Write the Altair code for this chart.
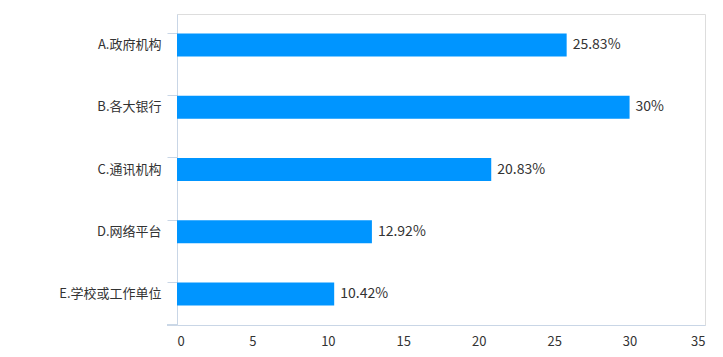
import altair as alt
import pandas as pd

categories = ["A.政府机构", "B.各大银行", "C.通讯机构", "D.网络平台", "E.学校或工作单位"]
values = [25.83, 30, 20.83, 12.92, 10.42]
labels = ["25.83%", "30%", "20.83%", "12.92%", "10.42%"]
x_ticks = [0, 5, 10, 15, 20, 25, 30, 35]

df = pd.DataFrame({"cat": categories, "val": values, "lab": labels})

FONT = "Noto Sans CJK SC"
AXIS_COLOR = "#c9d6e6"
W, H = 528, 311

y_enc = alt.Y("cat:N", sort=categories, title=None,
              scale=alt.Scale(paddingInner=0.63, paddingOuter=0.315),
              axis=alt.Axis(bandPosition=0, tickSize=10, tickColor=AXIS_COLOR,
                            domainColor=AXIS_COLOR, labelPadding=6,
                            labelFontSize=13, labelColor="#333333",
                            labelFont=FONT))

x_enc = alt.X("val:Q", title=None,
              scale=alt.Scale(domain=[0, 35], nice=False),
              axis=alt.Axis(values=x_ticks, ticks=False, grid=False,
                            domainColor=AXIS_COLOR, labelPadding=10,
                            labelFontSize=13, labelColor="#333333",
                            labelFont=FONT))

bars = alt.Chart(df).mark_bar(color="#0095ff").encode(y=y_enc, x=x_enc)

text = alt.Chart(df).mark_text(align="left", baseline="middle", dx=6,
                               fontSize=14, font=FONT, color="#333333").encode(
    y=alt.Y("cat:N", sort=categories), x="val:Q", text="lab:N")

bottom_tick = alt.Chart(df).mark_rule(color=AXIS_COLOR).encode(
    x=alt.value(-10), x2=alt.value(0), y=alt.value(H))

chart = alt.layer(bars, text, bottom_tick).properties(
    width=W, height=H,
    autosize=alt.AutoSizeParams(type="none"),
    padding={"left": 169, "top": 6, "right": 10, "bottom": 30},
).configure_view(stroke=None).configure(background="white")

chart.save("out.html", embed_options={"renderer": "svg", "actions": False})
